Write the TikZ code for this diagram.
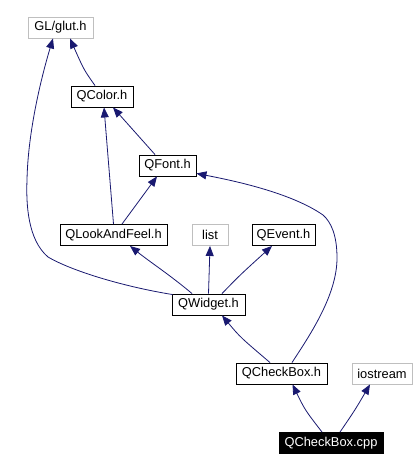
\documentclass[tikz,border=0pt]{standalone}
\usepackage{fontspec}
\setmainfont{Liberation Sans}
\usetikzlibrary{arrows.meta}
\definecolor{edgeblue}{HTML}{191970}
\definecolor{graybox}{HTML}{BFBFBF}
\begin{document}
\begin{tikzpicture}[x=1bp,y=-1bp,
  box/.style={draw=black,line width=0.9bp,inner sep=0pt,minimum height=21bp,font=\fontsize{12.9}{14}\selectfont,text=black},
  greybox/.style={box,draw=graybox},
  cppbox/.style={box,fill=black,text=white},
  dep/.style={draw=edgeblue,line width=0.8bp,-{Triangle[length=10bp,width=8bp]}}]
\useasboundingbox (0,0) rectangle (417,471);
\node[greybox,minimum width=65bp] (glut) at (60.5,27.5) {GL/glut.h};
\node[box,minimum width=62bp] (qcolor) at (102,96.5) {QColor.h};
\node[box,minimum width=57bp] (qfont) at (167.5,165.5) {QFont.h};
\node[box,minimum width=107bp] (qlook) at (113.5,235) {QLookAndFeel.h};
\node[greybox,minimum width=36bp] (list) at (210,235) {list};
\node[box,minimum width=63bp] (qevent) at (283.5,235) {QEvent.h};
\node[box,minimum width=73bp] (qwidget) at (208.5,304.5) {QWidget.h};
\node[box,minimum width=91bp] (qcheckh) at (281.5,373.5) {QCheckBox.h};
\node[greybox,minimum width=60bp] (iostream) at (382,373.5) {iostream};
\node[cppbox,minimum width=104bp] (qcpp) at (331,443) {QCheckBox.cpp};
% edges
\draw[dep] ([xshift=-7bp]qcolor.north) .. controls (84,70) .. ([xshift=9.5bp]glut.south);
\draw[dep] ([xshift=1bp,yshift=-1bp]qwidget.north west) .. controls (120,286) and (70,270) .. (48,257)
  .. controls (28,240) and (26,205) .. (27,180)
  .. controls (28,130) and (42,75) .. ([xshift=-7.5bp]glut.south);
\draw[dep] (qlook.north) -- ([xshift=2bp]qcolor.south);
\draw[dep] ([xshift=-12.5bp]qfont.north) -- ([xshift=11bp]qcolor.south);
\draw[dep] ([xshift=8.5bp]qlook.north) -- ([xshift=-10.5bp]qfont.south);
\draw[dep] ([xshift=10.5bp]qcheckh.north) .. controls (310,335) and (337,295) .. (337,258)
  .. controls (337,235) and (331,222) .. (323,215)
  .. controls (290,192) and (230,180) .. ([yshift=3bp]qfont.south east);
\draw[dep] ([xshift=-16.5bp]qwidget.north) .. controls (170,275) and (150,262) .. ([xshift=16.5bp]qlook.south);
\draw[dep] (qwidget.north) -- (list.south);
\draw[dep] ([xshift=13.5bp]qwidget.north) .. controls (240,275) .. ([xshift=-11.5bp]qevent.south);
\draw[dep] ([xshift=-11.5bp]qcheckh.north) .. controls (240,337) .. ([xshift=13.5bp]qwidget.south);
\draw[dep] ([xshift=-9bp]qcpp.north) .. controls (305,410) .. ([xshift=11bp]qcheckh.south);
\draw[dep] ([xshift=9bp]qcpp.north) .. controls (355,410) .. ([xshift=-12bp]iostream.south);
\end{tikzpicture}
\end{document}
